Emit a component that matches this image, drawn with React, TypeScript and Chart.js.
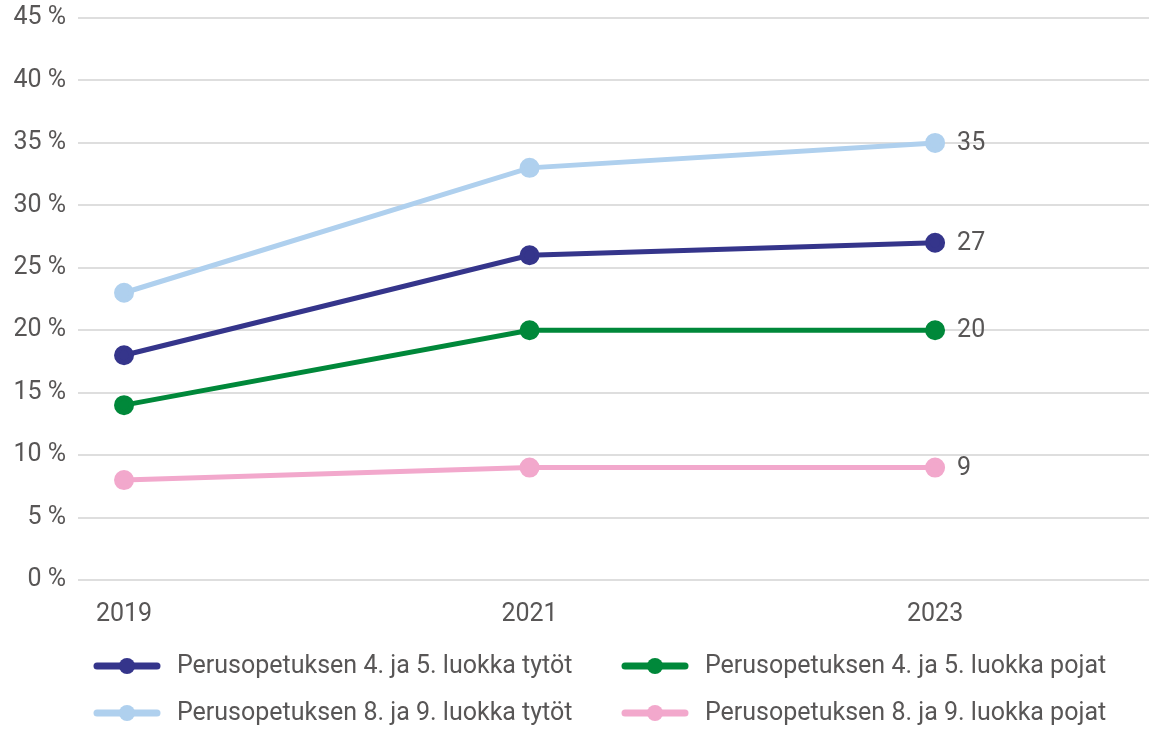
import React, { useEffect, useRef } from "react";
import { Chart, registerables } from "chart.js";

Chart.register(...registerables);

const years = [2019, 2021, 2023];
const seriesNames = [
  "Perusopetuksen 4. ja 5. luokka tytöt",
  "Perusopetuksen 4. ja 5. luokka pojat",
  "Perusopetuksen 8. ja 9. luokka tytöt",
  "Perusopetuksen 8. ja 9. luokka pojat",
];
const girls45 = [18, 26, 27];
const boys45 = [14, 20, 20];
const girls89 = [23, 33, 35];
const boys89 = [8, 9, 9];
const colors = ["#35358b", "#00883a", "#afd0ee", "#f2a8cc"];
const yTicks = [0, 5, 10, 15, 20, 25, 30, 35, 40, 45];

const FONT = "Roboto, 'Liberation Sans', sans-serif";
const TEXT = "#585656";
const FS = 25;

export default function App() {
  const ref = useRef<HTMLCanvasElement>(null);
  useEffect(() => {
    document.body.style.margin = "0";
    const values = [girls45, boys45, girls89, boys89];
    const datasets = values.map((vals, i) => ({
      label: seriesNames[i],
      data: vals.map((v, j) => ({ x: years[j], y: v })),
      borderColor: colors[i],
      backgroundColor: colors[i],
      pointBackgroundColor: colors[i],
      pointBorderColor: colors[i],
      borderWidth: 5,
      pointRadius: 7.5,
      pointHoverRadius: 7.5,
      tension: 0,
    }));
    const order = [1, 2, 0, 3];
    datasets.forEach((d: any, i) => (d.order = order[i]));

    const endLabels = {
      id: "endLabels",
      afterDatasetsDraw(chart: any) {
        const ctx = chart.ctx;
        ctx.save();
        ctx.font = `${FS}px ${FONT}`;
        ctx.fillStyle = TEXT;
        ctx.textAlign = "left";
        ctx.textBaseline = "middle";
        chart.data.datasets.forEach((ds: any, i: number) => {
          const meta = chart.getDatasetMeta(i);
          const last = meta.data[meta.data.length - 1];
          const v = ds.data[ds.data.length - 1].y;
          ctx.fillText(String(v), last.x + 22, last.y + 1);
        });
        ctx.restore();
      },
    };

    const legendPlugin = {
      id: "customLegend",
      afterDraw(chart: any) {
        const ctx = chart.ctx;
        const colX = [97, 625];
        const rowY = [666, 713];
        const layout = [
          [0, 0],
          [1, 0],
          [0, 1],
          [1, 1],
        ];
        ctx.save();
        ctx.font = `${FS}px ${FONT}`;
        ctx.textBaseline = "middle";
        ctx.textAlign = "left";
        seriesNames.forEach((name, i) => {
          const [c, r] = layout[i];
          const x = colX[c];
          const y = rowY[r];
          ctx.strokeStyle = colors[i];
          ctx.lineWidth = 7;
          ctx.lineCap = "round";
          ctx.beginPath();
          ctx.moveTo(x, y);
          ctx.lineTo(x + 60, y);
          ctx.stroke();
          ctx.fillStyle = colors[i];
          ctx.beginPath();
          ctx.arc(x + 30, y, 8, 0, Math.PI * 2);
          ctx.fill();
          ctx.fillStyle = TEXT;
          ctx.fillText(name, x + 80, y + 1);
        });
        ctx.restore();
      },
    };

    const zeroPad = (axis: any) => {
      axis.paddingTop = 0;
      axis.paddingBottom = 0;
      axis.paddingLeft = 0;
      axis.paddingRight = 0;
    };

    const chart = new Chart(ref.current!, {
      type: "line",
      data: { datasets: datasets as any },
      options: {
        animation: false,
        responsive: false,
        layout: { autoPadding: false, padding: { top: 18, right: 0, bottom: 100, left: 0 } },
        plugins: {
          legend: { display: false },
          tooltip: { enabled: false },
        },
        scales: {
          x: {
            type: "linear",
            min: 2018.773,
            max: 2024.055,
            afterBuildTicks(axis: any) {
              axis.ticks = years.map((y) => ({ value: y }));
            },
            afterFit(axis: any) {
              axis.height = 49;
              zeroPad(axis);
            },
            grid: { display: false },
            border: { display: false },
            ticks: {
              font: { family: FONT, size: FS },
              color: TEXT,
              padding: 12,
              maxRotation: 0,
              callback: (v: any) => String(v),
            },
          },
          y: {
            min: 0,
            max: 45,
            afterBuildTicks(axis: any) {
              axis.ticks = yTicks.map((v) => ({ value: v }));
            },
            afterFit(axis: any) {
              axis.width = 78;
              zeroPad(axis);
            },
            grid: { color: "#dedede", lineWidth: 2, drawTicks: false },
            border: { display: false },
            ticks: {
              font: { family: FONT, size: FS },
              color: TEXT,
              padding: 12,
              callback: (v: any) => `${v} %`,
            },
          },
        },
      },
      plugins: [endLabels, legendPlugin],
    });
    return () => chart.destroy();
  }, []);
  return (
    <div style={{ position: "absolute", left: 0, top: 0, width: 1149, height: 729, background: "#fff" }}>
      <canvas ref={ref} width={1149} height={729} style={{ width: 1149, height: 729, display: "block" }} />
    </div>
  );
}
